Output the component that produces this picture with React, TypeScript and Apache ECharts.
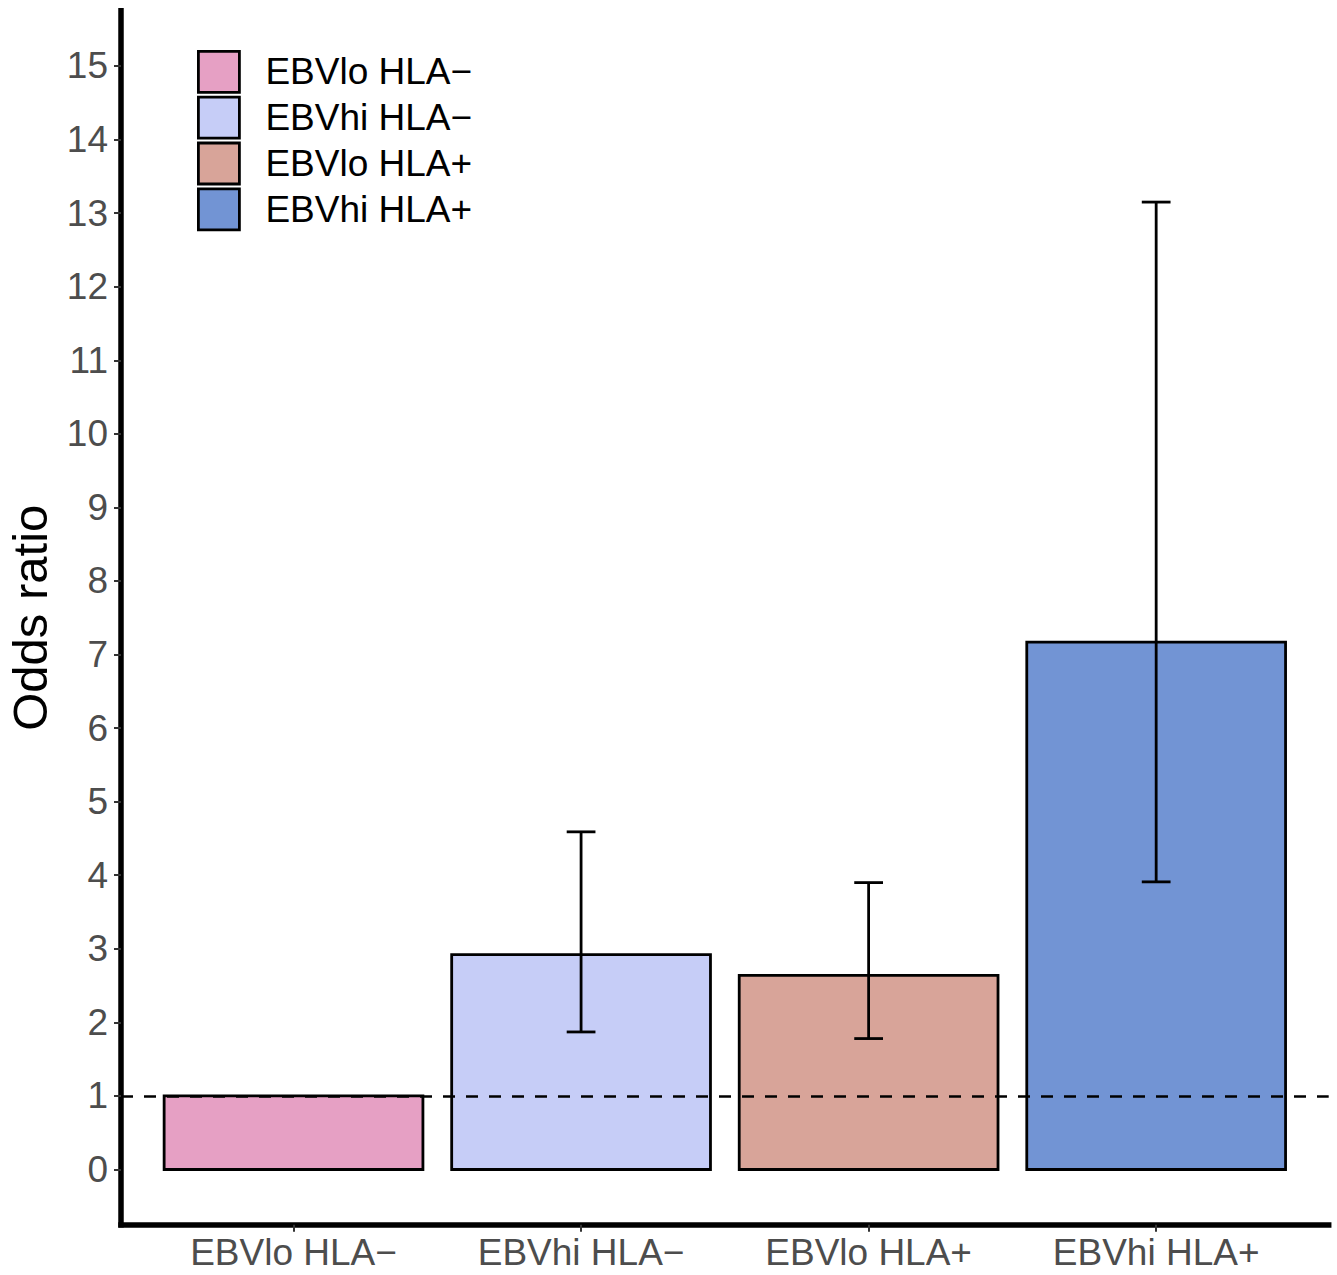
import React, { useEffect, useRef } from "react";
import * as echarts from "echarts";

const categories = ["EBVlo HLA−", "EBVhi HLA−", "EBVlo HLA+", "EBVhi HLA+"];
const oddsRatio = [1, 2.92, 2.64, 7.17];
const ciLower = [null, 1.87, 1.78, 3.91];
const ciUpper = [null, 4.59, 3.9, 13.15];
const yTicks = [0, 1, 2, 3, 4, 5, 6, 7, 8, 9, 10, 11, 12, 13, 14, 15];
const xTicks = [1, 2, 3, 4];
const barColors = ["#E6A0C4", "#C6CDF7", "#D8A499", "#7294D4"];

const FONT = "Liberation Sans, Arial, sans-serif";

export default function App() {
  const ref = useRef<HTMLDivElement>(null);
  useEffect(() => {
    if (!ref.current) return;
    const chart = echarts.init(ref.current, null, { renderer: "svg" });

    const barSeries = categories.map((name, i) => ({
      type: "custom",
      name,
      data: [[i + 1, oddsRatio[i]]],
      encode: { x: 0, y: 1 },
      itemStyle: { color: barColors[i] },
      z: 2,
      renderItem: (params: any, api: any) => {
        const x = api.value(0);
        const y = api.value(1);
        const p0 = api.coord([x - 0.45, y]);
        const p1 = api.coord([x + 0.45, 0]);
        return {
          type: "rect",
          shape: { x: p0[0], y: p0[1], width: p1[0] - p0[0], height: p1[1] - p0[1] },
          style: { fill: barColors[i], stroke: "#000", lineWidth: 2.8 },
        };
      },
    }));

    const errData = categories
      .map((_, i) => (ciLower[i] == null ? null : [i + 1, ciLower[i], ciUpper[i]]))
      .filter((d) => d !== null);

    const errSeries = {
      type: "custom",
      name: "ci",
      data: errData,
      encode: { x: 0, y: [1, 2] },
      z: 4,
      renderItem: (params: any, api: any) => {
        const x = api.value(0);
        const lo = api.coord([x, api.value(1)]);
        const hi = api.coord([x, api.value(2)]);
        const l = api.coord([x - 0.05, 0])[0];
        const r = api.coord([x + 0.05, 0])[0];
        const st = { stroke: "#000", lineWidth: 2.8 };
        return {
          type: "group",
          children: [
            { type: "line", shape: { x1: lo[0], y1: lo[1], x2: hi[0], y2: hi[1] }, style: st },
            { type: "line", shape: { x1: l, y1: lo[1], x2: r, y2: lo[1] }, style: st },
            { type: "line", shape: { x1: l, y1: hi[1], x2: r, y2: hi[1] }, style: st },
          ],
        };
      },
      markLine: {
        silent: true,
        symbol: "none",
        z: 5,
        label: { show: false },
        lineStyle: { color: "#000", width: 2.7, type: [12, 11] },
        data: [{ yAxis: 1 }],
      },
    };

    chart.setOption({
      animation: false,
      textStyle: { fontFamily: FONT },
      grid: {
        left: 121,
        right: 8.3,
        top: 10.8,
        bottom: 50.3,
        containLabel: false,
        outerBoundsMode: "none",
      },
      legend: {
        orient: "vertical",
        left: 192,
        top: 45,
        itemWidth: 41,
        itemHeight: 41,
        itemGap: 2,
        selectedMode: false,
        textStyle: {
          fontSize: 37,
          lineHeight: 41,
          color: "#000",
          fontFamily: FONT,
          padding: [0, 0, 0, 21],
        },
        data: categories.map((c, i) => ({
          name: c,
          icon: "rect",
          itemStyle: { color: barColors[i], borderColor: "#000", borderWidth: 2.8 },
        })),
      },
      xAxis: {
        type: "value",
        min: 0.4,
        max: 4.6,
        splitLine: { show: false },
        axisLine: { show: true, onZero: false, lineStyle: { color: "#000", width: 5.5, cap: "square" } },
        axisTick: { show: true, customValues: xTicks, length: 7, lineStyle: { color: "#333", width: 2 } },
        axisLabel: {
          customValues: xTicks,
          formatter: (v: number) => categories[Math.round(v) - 1] ?? "",
          fontSize: 37,
          color: "#4D4D4D",
          fontFamily: FONT,
          margin: 9,
        },
      },
      yAxis: {
        type: "value",
        min: -0.75,
        max: 15.75,
        name: "Odds ratio",
        nameLocation: "middle",
        nameGap: 67,
        nameTextStyle: { fontSize: 49, color: "#000", fontFamily: FONT },
        splitLine: { show: false },
        axisLine: { show: true, onZero: false, lineStyle: { color: "#000", width: 5.5, cap: "square" } },
        axisTick: { show: true, customValues: yTicks, length: 7, lineStyle: { color: "#333", width: 2 } },
        axisLabel: {
          customValues: yTicks,
          fontSize: 37,
          color: "#4D4D4D",
          fontFamily: FONT,
          margin: 13,
        },
      },
      series: [...barSeries, errSeries],
    });
    return () => chart.dispose();
  }, []);
  return (
    <div
      ref={ref}
      style={{ position: "fixed", left: 0, top: 0, width: 1337, height: 1275, background: "#fff" }}
    />
  );
}
